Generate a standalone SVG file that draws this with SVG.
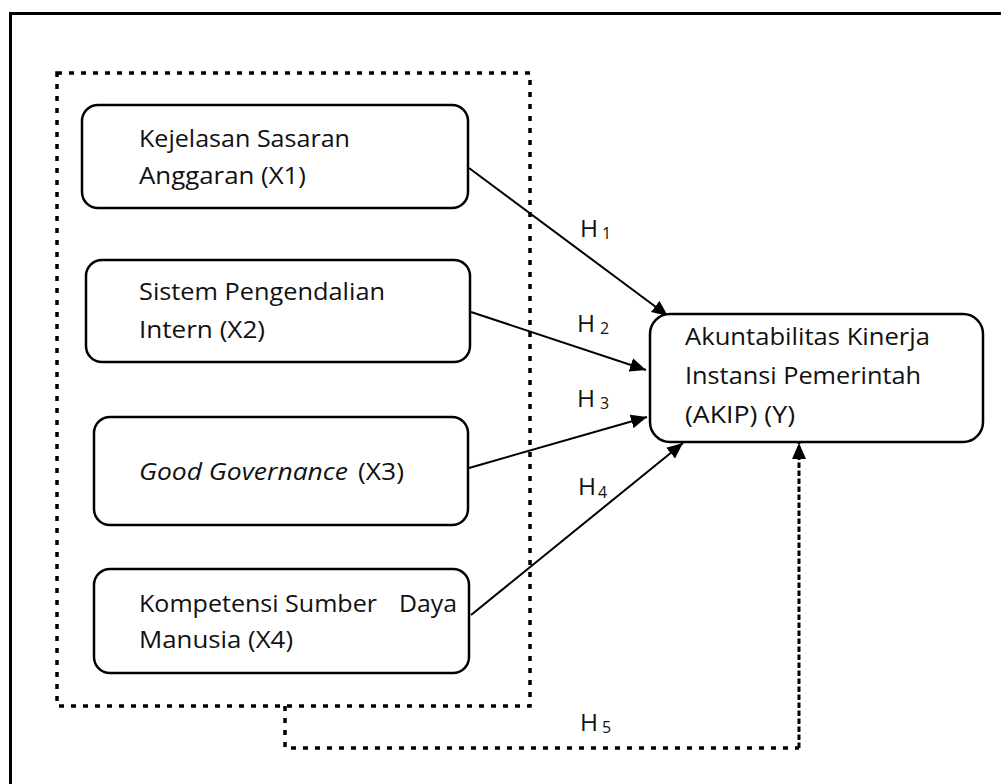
<svg xmlns="http://www.w3.org/2000/svg" width="1001" height="784" viewBox="0 0 1001 784">
  <style>
    .box { fill: #fff; stroke: #000; stroke-width: 2.5; }
    .t { font-family: "Open Sans", "Noto Sans", "Liberation Sans", sans-serif; font-size: 24.5px; fill: #111; }
    .sub { font-family: "Open Sans", "Noto Sans", "Liberation Sans", sans-serif; font-size: 16px; fill: #111; }
    .conn { stroke: #000; stroke-width: 2; fill: none; }
    .dot { fill: none; stroke: #000; stroke-width: 3.5; stroke-dasharray: 5 7; }
  </style>
  <defs>
    <marker id="arr" markerUnits="userSpaceOnUse" markerWidth="17" markerHeight="14" refX="16" refY="7" orient="auto">
      <path d="M0,0 L16,7 L0,14 z" fill="#000"/>
    </marker>
  </defs>
  <rect x="0" y="0" width="1001" height="784" fill="#fff"/>
  <!-- outer frame -->
  <rect x="10.5" y="13.5" width="1010" height="800" fill="none" stroke="#000" stroke-width="3"/>
  <!-- dotted grouping rectangle -->
  <rect id="group-x" class="dot" x="57" y="73" width="473" height="633"/>

  <g id="connectors">
    <line class="conn" x1="469" y1="168" x2="668" y2="316" marker-end="url(#arr)"/>
    <line class="conn" x1="471" y1="312" x2="646" y2="370" marker-end="url(#arr)"/>
    <line class="conn" x1="469" y1="468" x2="647" y2="417" marker-end="url(#arr)"/>
    <line class="conn" x1="471" y1="615" x2="683" y2="443" marker-end="url(#arr)"/>
    <path class="dot" d="M285,706 V748 H799"/>
    <path d="M799,748 V443" fill="none" stroke="#000" stroke-width="3" stroke-dasharray="5.5 2.5" marker-end="url(#arr)"/>
    <text class="t" x="580" y="237">H<tspan class="sub" x="602" dy="2">1</tspan></text>
    <text class="t" x="577" y="332">H<tspan class="sub" x="600" dy="2">2</tspan></text>
    <text class="t" x="577" y="407">H<tspan class="sub" x="600" dy="2">3</tspan></text>
    <text class="t" x="578" y="495">H<tspan class="sub" x="598" dy="3">4</tspan></text>
    <text class="t" x="580" y="731">H<tspan class="sub" x="602" dy="2">5</tspan></text>
  </g>

  <g id="x1">
    <rect class="box" x="82" y="105" width="386" height="103" rx="16"/>
    <text class="t" x="139" y="147" textLength="211" lengthAdjust="spacingAndGlyphs">Kejelasan Sasaran</text>
    <text class="t" x="139" y="184" textLength="167" lengthAdjust="spacingAndGlyphs">Anggaran (X1)</text>
  </g>
  <g id="x2">
    <rect class="box" x="86" y="260" width="384" height="102" rx="16"/>
    <text class="t" x="139" y="300" textLength="246" lengthAdjust="spacingAndGlyphs">Sistem Pengendalian</text>
    <text class="t" x="139" y="338" textLength="126" lengthAdjust="spacingAndGlyphs">Intern (X2)</text>
  </g>
  <g id="x3">
    <rect class="box" x="94" y="417" width="374" height="108" rx="16"/>
    <text class="t" x="139" y="480" font-style="italic" textLength="209" lengthAdjust="spacingAndGlyphs">Good Governance</text>
    <text class="t" x="358" y="480" textLength="46" lengthAdjust="spacingAndGlyphs">(X3)</text>
  </g>
  <g id="x4">
    <rect class="box" x="94" y="569" width="375" height="104" rx="16"/>
    <text class="t" x="139" y="612" textLength="238" lengthAdjust="spacingAndGlyphs">Kompetensi Sumber</text>
    <text class="t" x="399" y="612" textLength="58" lengthAdjust="spacingAndGlyphs">Daya</text>
    <text class="t" x="139" y="648" textLength="154" lengthAdjust="spacingAndGlyphs">Manusia (X4)</text>
  </g>
  <g id="y">
    <rect class="box" x="650" y="314" width="333" height="128" rx="20"/>
    <text class="t" x="685" y="345" textLength="245" lengthAdjust="spacingAndGlyphs">Akuntabilitas Kinerja</text>
    <text class="t" x="685" y="384" textLength="236" lengthAdjust="spacingAndGlyphs">Instansi Pemerintah</text>
    <text class="t" x="685" y="423" textLength="110" lengthAdjust="spacingAndGlyphs">(AKIP) (Y)</text>
  </g>
</svg>
